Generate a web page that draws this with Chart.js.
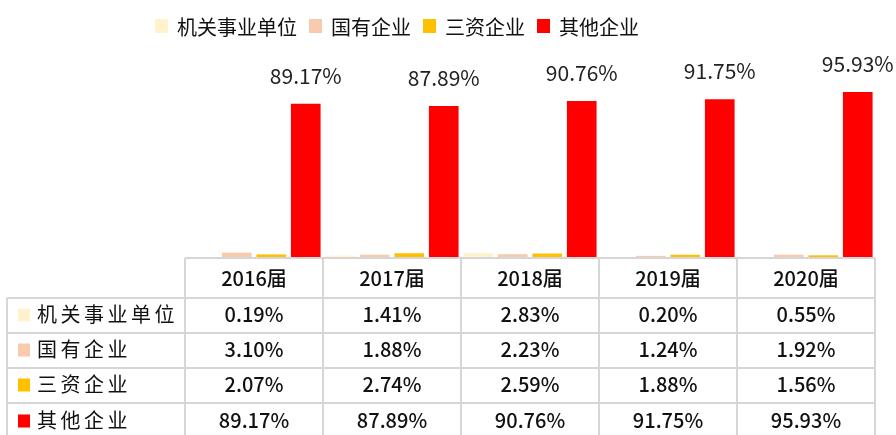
<!DOCTYPE html>
<html>
<head>
<meta charset="utf-8">
<script src="https://cdn.jsdelivr.net/npm/chart.js@4.4.1/dist/chart.umd.min.js"></script>
<style>
  html, body { margin: 0; padding: 0; background: #fff; }
  #wrap { width: 896px; height: 435px; position: relative; }
</style>
</head>
<body>
<div id="wrap"><canvas id="myChart" width="896" height="435"></canvas></div>
<script>
// data
const years = ['2016届', '2017届', '2018届', '2019届', '2020届'];
const seriesNames = ['机关事业单位', '国有企业', '三资企业', '其他企业'];
const jiguan = [0.19, 1.41, 2.83, 0.20, 0.55];
const guoyou = [3.10, 1.88, 2.23, 1.24, 1.92];
const sanzi = [2.07, 2.74, 2.59, 1.88, 1.56];
const qita = [89.17, 87.89, 90.76, 91.75, 95.93];
const colors = ['#FFF2CC', '#F8CBAD', '#FFC000', '#FF0000'];

const allSeries = [jiguan, guoyou, sanzi, qita];
const CJK = '"Noto Sans CJK SC", "Noto Sans", sans-serif';

function pct(v) {
  return v.toFixed(2) + '%';
}

// draws the legend, the labels over the red bars and the data table
const tablePlugin = {
  id: 'tablePlugin',
  afterDraw: function (chart) {
    const ctx = chart.ctx;
    const area = chart.chartArea;
    const xScale = chart.scales.x;
    const colW = (area.right - area.left) / years.length;

    ctx.save();

    // legend
    ctx.font = '20px ' + CJK;
    ctx.textBaseline = 'middle';
    ctx.textAlign = 'left';
    let lx = 155;
    seriesNames.forEach(function (name, i) {
      ctx.fillStyle = colors[i];
      ctx.fillRect(lx, 19, 13, 14);
      ctx.fillStyle = '#111';
      ctx.fillText(name, lx + 22, 27);
      lx += 22 + ctx.measureText(name).width + 12;
    });

    // labels over the red bars
    const meta = chart.getDatasetMeta(3);
    ctx.font = '21px ' + CJK;
    ctx.textAlign = 'center';
    ctx.fillStyle = '#222';
    meta.data.forEach(function (bar, i) {
      ctx.fillText(pct(qita[i]), bar.x, bar.y - 28);
    });

    // table grid
    const top = area.bottom;
    const rowTops = [top, 298, 333, 368, 403, 440];
    const tableLeft = 7;
    ctx.strokeStyle = '#d6d6d6';
    ctx.lineWidth = 2;
    ctx.beginPath();
    ctx.moveTo(area.left, rowTops[0]);
    ctx.lineTo(area.right, rowTops[0]);
    for (let r = 1; r < rowTops.length; r++) {
      ctx.moveTo(tableLeft, rowTops[r]);
      ctx.lineTo(area.right, rowTops[r]);
    }
    ctx.moveTo(tableLeft, rowTops[1]);
    ctx.lineTo(tableLeft, 440);
    for (let c = 0; c <= years.length; c++) {
      const x = area.left + c * colW;
      ctx.moveTo(x, rowTops[0]);
      ctx.lineTo(x, 440);
    }
    ctx.stroke();

    // header row
    ctx.fillStyle = '#111';
    ctx.font = '500 20px ' + CJK;
    ctx.textAlign = 'center';
    years.forEach(function (y, i) {
      ctx.fillText(y, xScale.getPixelForValue(i), (rowTops[0] + rowTops[1]) / 2);
    });

    // data rows
    allSeries.forEach(function (vals, r) {
      const cy = (rowTops[r + 1] + rowTops[r + 2]) / 2 - 1;
      ctx.fillStyle = colors[r];
      ctx.fillRect(18, cy - 6, 12, 13);
      ctx.fillStyle = '#111';
      ctx.textAlign = 'left';
      ctx.font = '20px ' + CJK;
      ctx.letterSpacing = '3.5px';
      ctx.fillText(seriesNames[r], 37, cy);
      ctx.letterSpacing = '0px';
      ctx.textAlign = 'center';
      ctx.font = '500 20px ' + CJK;
      vals.forEach(function (v, i) {
        ctx.fillText(pct(v), xScale.getPixelForValue(i), cy);
      });
    });

    ctx.restore();
  }
};

const data = {
  labels: years,
  datasets: seriesNames.map(function (name, i) {
    return {
      label: name,
      data: allSeries[i],
      backgroundColor: colors[i],
      categoryPercentage: 1.0,
      barPercentage: 0.86
    };
  })
};

const config = {
  type: 'bar',
  data: data,
  options: {
    responsive: false,
    animation: false,
    layout: {
      padding: { left: 185, right: 21, top: 85, bottom: 177 }
    },
    plugins: {
      legend: { display: false },
      tooltip: { enabled: false }
    },
    scales: {
      x: { display: false },
      y: { display: false, min: 0, max: 100 }
    }
  },
  plugins: [tablePlugin]
};

const myChart = new Chart(document.getElementById('myChart'), config);
</script>
</body>
</html>
